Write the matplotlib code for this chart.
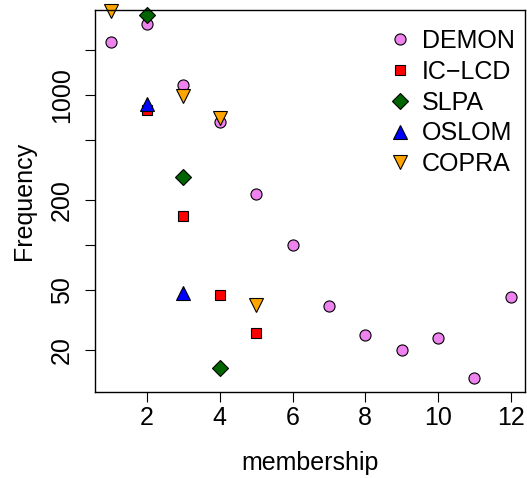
import numpy as np
import matplotlib
matplotlib.use("Agg")
import matplotlib.pyplot as plt

plt.rcParams['font.family'] = ['Liberation Sans', 'DejaVu Sans']

# membership counts and frequencies per method
demon_x = [1, 2, 3, 4, 5, 6, 7, 8, 9, 10, 11, 12]
demon_y = [2230, 2940, 1155, 658, 218, 100, 39, 25, 20, 24, 13, 45]

iclcd_x = [2, 3, 4, 5]
iclcd_y = [790, 155, 46, 26]

slpa_x = [2, 3, 4]
slpa_y = [3400, 282, 15]

oslom_x = [2, 3]
oslom_y = [870, 48]

copra_x = [1, 3, 4, 5]
copra_y = [3600, 980, 703, 40]

y_ticks = [20, 50, 100, 200, 500, 1000, 2000]
y_tick_labels = ['20', '50', '', '200', '', '1000', '']
x_ticks = [2, 4, 6, 8, 10, 12]

fs = 18

fig = plt.figure(figsize=(5.27, 4.78), dpi=100)
ax = fig.add_axes([0.1797, 0.1793, 0.9962 - 0.1797, 0.9785 - 0.1793])

common = dict(linestyle='none', markeredgecolor='black', markeredgewidth=0.8, clip_on=False)
ax.plot(demon_x, demon_y, marker='o', markersize=8, markerfacecolor='violet', label='DEMON', **common)
ax.plot(iclcd_x, iclcd_y, marker='s', markersize=7, markerfacecolor='red', label='IC\u2212LCD', **common)
ax.plot(slpa_x, slpa_y, marker='D', markersize=7.8, markerfacecolor='darkgreen', label='SLPA', **common)
ax.plot(oslom_x, oslom_y, marker='^', markersize=10, markerfacecolor='blue', label='OSLOM', **common)
ax.plot(copra_x, copra_y, marker='v', markersize=10, markerfacecolor='orange', label='COPRA', **common)

ax.set_yscale('log')
ax.set_xlim(0.56, 12.39)
ax.set_ylim(10.4, 3655)

ax.set_yticks(y_ticks)
ax.set_yticklabels(y_tick_labels, rotation=90, va='center')
ax.yaxis.set_minor_locator(matplotlib.ticker.NullLocator())
ax.set_xticks(x_ticks)
ax.set_xticklabels([str(t) for t in x_ticks])

ax.tick_params(axis='both', direction='out', length=7, width=0.8, labelsize=fs)
ax.tick_params(axis='x', pad=3)
ax.tick_params(axis='y', pad=8)
for sp in ax.spines.values():
    sp.set_linewidth(1.0)

ax.set_xlabel('membership', fontsize=fs, labelpad=15)
ax.set_ylabel('Frequency', fontsize=fs, labelpad=10)

ax.legend(loc='upper left', bbox_to_anchor=(387 / 527, 1 - 29 / 478),
          bbox_transform=fig.transFigure, frameon=False, fontsize=fs,
          handlelength=1.0, handletextpad=0.4, labelspacing=0.27,
          borderpad=0, borderaxespad=0, numpoints=1)

fig.savefig('out.png', dpi=100)
